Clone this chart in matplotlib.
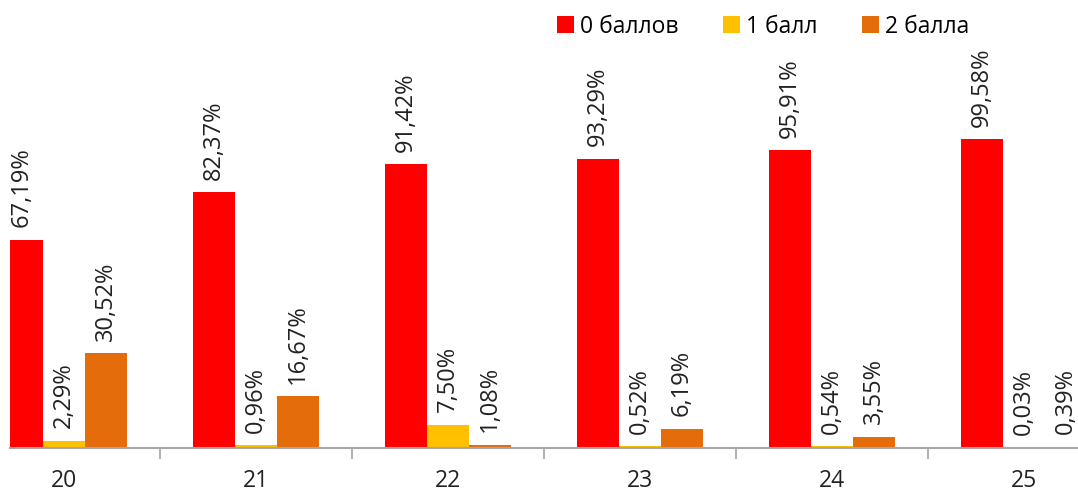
import matplotlib.pyplot as plt
import numpy as np

categories = ['20', '21', '22', '23', '24', '25']
series_names = ['0 баллов', '1 балл', '2 балла']
zero_pts = [67.19, 82.37, 91.42, 93.29, 95.91, 99.58]
one_pt = [2.29, 0.96, 7.50, 0.52, 0.54, 0.03]
two_pts = [30.52, 16.67, 1.08, 6.19, 3.55, 0.39]
colors = ['#FF0000', '#FFC000', '#E46C0A']

plt.rcParams['font.family'] = ['Open Sans', 'DejaVu Sans']

fig = plt.figure(figsize=(10.78, 4.92), dpi=100)
ax = fig.add_axes([10 / 1078, 44 / 492, 1068 / 1078, 448 / 492])

x = np.arange(len(categories))
w = 0.219
for i, (vals, name, col) in enumerate(zip([zero_pts, one_pt, two_pts], series_names, colors)):
    pos = x + (i - 1) * w
    ax.bar(pos, vals, width=w, color=col, label=name)
    for p, v in zip(pos, vals):
        txt = f'{v:.2f}%'.replace('.', ',')
        ax.annotate(txt, (p, v), xytext=(0, 9), textcoords='offset points',
                    rotation=90, ha='center', va='bottom', fontsize=17, color='#222222')

ax.set_xlim(-0.28, 5.28)
ax.set_ylim(0, 144.4)
ax.set_yticks([])
for s in ['top', 'right', 'left']:
    ax.spines[s].set_visible(False)
ax.spines['bottom'].set_color('#A6A6A6')
ax.spines['bottom'].set_linewidth(1.5)
ax.set_xticks(x)
ax.set_xticklabels(categories, fontsize=16.5, color='#222222')
ax.tick_params(axis='x', which='major', length=0, pad=15)
ax.set_xticks(x[:-1] + 0.5, minor=True)
ax.tick_params(axis='x', which='minor', length=8, color='#A6A6A6', width=1.2)

fig.legend(loc='upper right', bbox_to_anchor=(0.918, 1.012), ncol=3, frameon=False,
           fontsize=16.5, handlelength=0.74, handleheight=0.74, handletextpad=0.25,
           columnspacing=1.95)

fig.savefig('out.png', dpi=100)
